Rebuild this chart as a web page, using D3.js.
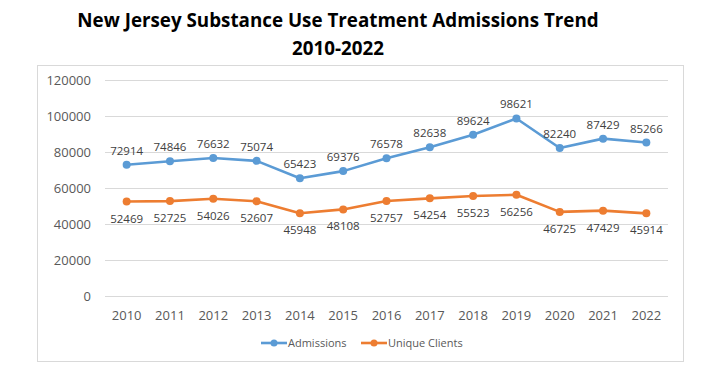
<!DOCTYPE html>
<html lang="en">
<head>
<meta charset="UTF-8">
<title>NJ Substance Use Treatment Admissions Trend</title>
<script src="https://d3js.org/d3.v7.min.js"></script>
<style>
  body { margin: 0; background: #fff; }
  svg { display: block; font-family: "Open Sans", sans-serif; }
  .grid line { stroke: #d9d9d9; stroke-width: 1; }
  .tick-text { fill: #595959; font-size: 13px; }
  .val { fill: #404040; font-size: 11.5px; }
  .title { font-size: 18.8px; font-weight: bold; fill: #000; }
</style>
</head>
<body>
<svg width="716" height="376"></svg>
<script>
var years = ["2010","2011","2012","2013","2014","2015","2016","2017","2018","2019","2020","2021","2022"];
var admissions = [72914, 74846, 76632, 75074, 65423, 69376, 76578, 82638, 89624, 98621, 82240, 87429, 85266];
var uniqueClients = [52469, 52725, 54026, 52607, 45948, 48108, 52757, 54254, 55523, 56256, 46725, 47429, 45914];
var yTicks = [0, 20000, 40000, 60000, 80000, 100000, 120000];

var svg = d3.select("svg");

// title
svg.append("text").attr("class", "title").attr("x", 338).attr("y", 27)
    .attr("text-anchor", "middle")
    .text("New Jersey Substance Use Treatment Admissions Trend");
svg.append("text").attr("class", "title").attr("x", 338).attr("y", 55)
    .attr("text-anchor", "middle")
    .text("2010-2022");

// chart frame
svg.append("rect").attr("x", 37.5).attr("y", 65.5).attr("width", 646).attr("height", 296)
    .attr("fill", "none").attr("stroke", "#d9d9d9");

var x = d3.scalePoint().domain(years).range([105, 668]).padding(0.5);
var y = d3.scaleLinear().domain([0, 120000]).range([296, 80]);

// grid
var grid = svg.append("g").attr("class", "grid");
grid.selectAll("line").data(yTicks).enter().append("line")
    .attr("x1", 105).attr("x2", 668)
    .attr("y1", function(d) { return Math.round(y(d)) + 0.5; })
    .attr("y2", function(d) { return Math.round(y(d)) + 0.5; });

// y labels
svg.selectAll(".ylab").data(yTicks).enter().append("text")
    .attr("class", "tick-text ylab")
    .attr("x", 91).attr("y", function(d) { return y(d) + 5; })
    .attr("text-anchor", "end")
    .text(function(d) { return d; });

// x labels
svg.selectAll(".xlab").data(years).enter().append("text")
    .attr("class", "tick-text xlab")
    .attr("x", function(d) { return x(d); }).attr("y", 320)
    .attr("text-anchor", "middle")
    .text(function(d) { return d; });

var series = [
    { name: "Admissions", values: admissions, color: "#5b9bd5", dy: -10 },
    { name: "Unique Clients", values: uniqueClients, color: "#ed7d31", dy: 21 }
];

var line = d3.line()
    .x(function(d, i) { return x(years[i]); })
    .y(function(d) { return y(d); });

series.forEach(function(s) {
    svg.append("path").datum(s.values)
        .attr("d", line)
        .attr("fill", "none")
        .attr("stroke", s.color)
        .attr("stroke-width", 2.6)
        .attr("stroke-linejoin", "round");
    svg.selectAll(null).data(s.values).enter().append("circle")
        .attr("cx", function(d, i) { return x(years[i]); })
        .attr("cy", function(d) { return y(d); })
        .attr("r", 4)
        .attr("fill", s.color);
    svg.selectAll(null).data(s.values).enter().append("text")
        .attr("class", "val")
        .attr("x", function(d, i) { return x(years[i]); })
        .attr("y", function(d) { return y(d) + s.dy; })
        .attr("text-anchor", "middle")
        .text(function(d) { return d; });
});

// legend
var legendX = [261, 361];
series.forEach(function(s, i) {
    var lg = svg.append("g").attr("transform", "translate(" + legendX[i] + ",343)");
    lg.append("line").attr("x1", 0).attr("x2", 26).attr("y1", 0).attr("y2", 0)
        .attr("stroke", s.color).attr("stroke-width", 2.6);
    lg.append("circle").attr("cx", 13).attr("cy", 0).attr("r", 3.5).attr("fill", s.color);
    lg.append("text").attr("x", 27).attr("y", 4).attr("class", "tick-text")
        .style("font-size", "11px").text(s.name);
});
</script>
</body>
</html>
